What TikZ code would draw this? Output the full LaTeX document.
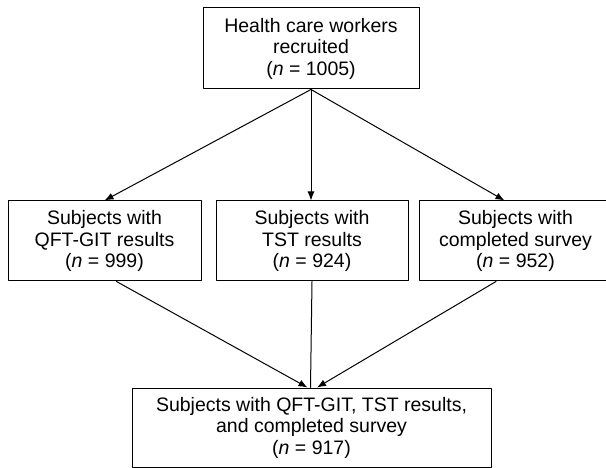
\documentclass[tikz,border=0pt]{standalone}
\usepackage{fontspec}
\setmainfont{Liberation Sans}
\usepackage{tikz}
\usetikzlibrary{positioning}
\usetikzlibrary{calc}
\usetikzlibrary{arrows.meta}

\tikzset{
	flowbox/.style={draw, line width=1pt, align=center, inner sep=0pt,
		minimum height=80pt, font=\fontsize{19.5}{21.5}\selectfont},
	flowarrow/.style={line width=1pt, -{Latex[length=9pt,width=7pt]}}
}

\begin{document}
\begin{tikzpicture}[line cap=round,line join=round,x=1pt,y=-1pt]
	\useasboundingbox (0,0) rectangle (606,468);
	\clip (0,0) rectangle (606,468);
	% boxes
	\node[flowbox, minimum width=216pt, minimum height=81pt] (recruited) at (311,48.5) {Health care workers\\recruited\\(\textit{n} = 1005)};
	\node[flowbox, minimum width=193pt] (qft) at (104.5,241) {Subjects with\\QFT-GIT results\\(\textit{n} = 999)};
	\node[flowbox, minimum width=192pt] (tst) at (312,241) {Subjects with\\TST results\\(\textit{n} = 924)};
	\node[flowbox, minimum width=193pt] (survey) at (515.5,241) {Subjects with\\completed survey\\(\textit{n} = 952)};
	\node[flowbox, minimum width=359pt, minimum height=79pt] (all) at (311.5,427.5) {Subjects with QFT-GIT, TST results,\\and completed survey\\(\textit{n} = 917)};
	% arrows
	\draw [flowarrow] (recruited.south) -- (qft.north);
	\draw [flowarrow] (recruited.south) -- (recruited.south |- tst.north);
	\draw [flowarrow] (recruited.south) -- ([xshift=-11pt]survey.north);
	\draw [flowarrow] ([xshift=12pt]qft.south) -- ([xshift=-4pt]all.north);
	\draw [line width=1pt] (tst.south) -- ([xshift=-1pt]all.north);
	\draw [flowarrow] ([xshift=-19.5pt]survey.south) -- ([xshift=5.5pt]all.north);
\end{tikzpicture}
\end{document}
